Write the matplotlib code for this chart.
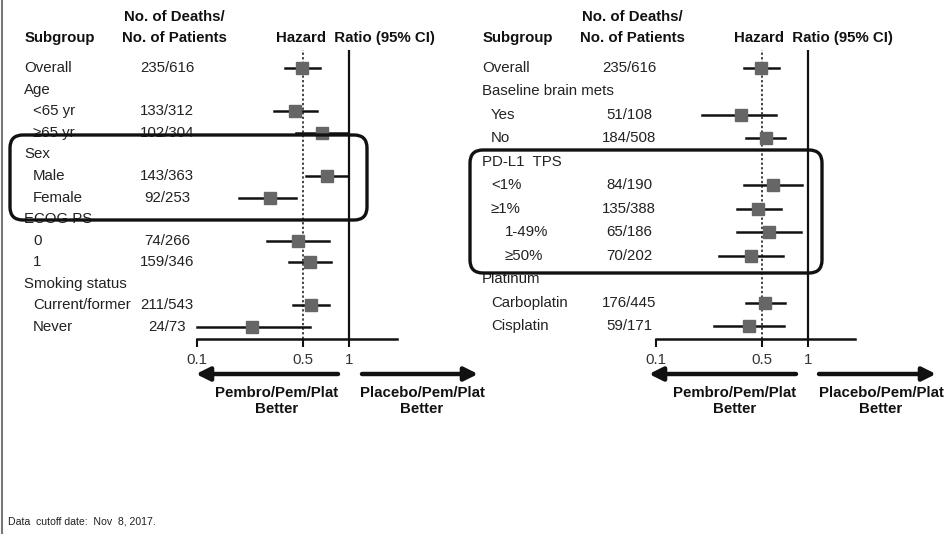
import matplotlib
matplotlib.use("Agg")
import matplotlib.pyplot as plt
from matplotlib.patches import FancyBboxPatch
from matplotlib.transforms import blended_transform_factory

plt.rcParams["font.family"] = ["Liberation Sans", "DejaVu Sans"]

INK = "#111111"
TXT = "#222222"
BOX = "#666666"
FS = 10.8

# left panel: demographic subgroups
left_labels = ["Overall", "Age", "<65 yr", "\u226565 yr", "Sex", "Male", "Female",
               "ECOG PS", "0", "1", "Smoking status", "Current/former", "Never"]
left_level = [0, 0, 1, 1, 0, 1, 1, 0, 1, 1, 0, 1, 1]
left_counts = ["235/616", "", "133/312", "102/304", "", "143/363", "92/253",
               "", "74/266", "159/346", "", "211/543", "24/73"]
left_hr = [0.49, None, 0.44, 0.66, None, 0.72, 0.30, None, 0.46, 0.55, None, 0.56, 0.23]
left_lo = [0.38, None, 0.32, 0.45, None, 0.52, 0.19, None, 0.29, 0.40, None, 0.43, 0.10]
left_hi = [0.64, None, 0.62, 0.98, None, 0.99, 0.45, None, 0.74, 0.76, None, 0.74, 0.55]

# right panel: disease characteristics
right_labels = ["Overall", "Baseline brain mets", "Yes", "No", "PD-L1  TPS", "<1%",
                "\u22651%", "1-49%", "\u226550%", "Platinum", "Carboplatin", "Cisplatin"]
right_level = [0, 0, 1, 1, 0, 1, 1, 2, 2, 0, 1, 1]
right_counts = ["235/616", "", "51/108", "184/508", "", "84/190", "135/388",
                "65/186", "70/202", "", "176/445", "59/171"]
right_hr = [0.49, None, 0.36, 0.53, None, 0.59, 0.47, 0.55, 0.42, None, 0.52, 0.41]
right_lo = [0.38, None, 0.20, 0.39, None, 0.38, 0.34, 0.34, 0.26, None, 0.39, 0.24]
right_hi = [0.64, None, 0.62, 0.71, None, 0.92, 0.66, 0.90, 0.68, None, 0.71, 0.69]

W, H = 947, 534
fig = plt.figure(figsize=(W / 100, H / 100), dpi=100)


def fx(px):
    return px / W


def forest(labels, level, counts, hr, lo, hi, x01, x1, xend, ytop_row, ybot_row,
           label_x, count_x, head_x, head_mid, hr_x):
    n = len(labels)
    step = (ybot_row - ytop_row) / (n - 1)
    axis_y, top_y = 339, 50
    ax = fig.add_axes([fx(x01), (H - axis_y) / H, fx(xend - x01), (axis_y - top_y) / H])
    ax.set_xscale("log")
    decade = x1 - x01
    ax.set_xlim(0.1, 0.1 * 10 ** ((xend - x01) / decade))
    ax.set_ylim((axis_y - ytop_row) / step, (top_y - ytop_row) / step)
    ax.patch.set_alpha(0)
    for s in ("top", "right", "left"):
        ax.spines[s].set_visible(False)
    ax.spines["bottom"].set_linewidth(1.8)
    ax.spines["bottom"].set_color(INK)
    ax.set_yticks([])
    ax.set_xticks([0.1, 0.5, 1])
    ax.set_xticklabels(["0.1", "0.5", "1"])
    ax.minorticks_off()
    ax.tick_params(axis="x", length=6, width=1.5, color=INK, labelsize=FS,
                   labelcolor="#333333", pad=4)

    ax.axvline(1, color=INK, lw=1.6, zorder=1)
    ax.axvline(0.5, color=INK, lw=1.1, ls=(0, (1.5, 1.5)), zorder=1)

    for i in range(n):
        if hr[i] is None:
            continue
        ax.plot([lo[i], hi[i]], [i, i], color=INK, lw=1.8, zorder=2, clip_on=False)
        ax.plot(hr[i], i, marker="s", ms=9, color=BOX, mec=BOX, zorder=3, clip_on=False)

    tr = blended_transform_factory(fig.transFigure, ax.transData)
    indent = [0, 9, 23]
    for i in range(n):
        ax.text(fx(label_x + indent[level[i]]), i, labels[i], transform=tr,
                ha="left", va="center", fontsize=FS, color=TXT)
        if counts[i]:
            ax.text(fx(count_x), i, counts[i], transform=tr,
                    ha="center", va="center", fontsize=FS, color=TXT)

    fig.text(fx(head_x), (H - 38) / H, "Subgroup", ha="left", va="center",
             fontsize=FS, fontweight="bold", color=INK)
    fig.text(fx(head_mid), (H - 17) / H, "No. of Deaths/", ha="center", va="center",
             fontsize=FS, fontweight="bold", color=INK)
    fig.text(fx(head_mid), (H - 38) / H, "No. of Patients", ha="center", va="center",
             fontsize=FS, fontweight="bold", color=INK)
    fig.text(fx(hr_x), (H - 38) / H, "Hazard  Ratio (95% CI)", ha="left", va="center",
             fontsize=FS, fontweight="bold", color=INK)
    return ax


forest(left_labels, left_level, left_counts, left_hr, left_lo, left_hi,
       197, 349, 397, 68, 327, 24, 167, 25, 174, 276)
forest(right_labels, right_level, right_counts, right_hr, right_lo, right_hi,
       656, 808, 855, 68, 326, 482, 629, 483, 632, 734)

# overlay in pixel units for arrows, highlight boxes and footnote
ov = fig.add_axes([0, 0, 1, 1])
ov.set_xlim(0, W)
ov.set_ylim(H, 0)
ov.axis("off")
ov.patch.set_alpha(0)

arrow_kw = dict(arrowstyle="-|>,head_length=0.8,head_width=0.4", lw=3.2, color=INK,
                shrinkA=0, shrinkB=0)
for (x_from, x_to) in [(338, 196), (362, 478), (796, 649), (819, 936)]:
    ov.annotate("", xy=(x_to, 374), xytext=(x_from, 374), arrowprops=arrow_kw)

for cx, txt in [(277, "Pembro/Pem/Plat\nBetter"), (422, "Placebo/Pem/Plat\nBetter"),
                (735, "Pembro/Pem/Plat\nBetter"), (881, "Placebo/Pem/Plat\nBetter")]:
    ov.text(cx, 401, txt, ha="center", va="center", fontsize=FS, fontweight="bold",
            color=INK, linespacing=1.25)

for (x0, y0, x1, y1) in [(10, 135, 367, 220), (470, 150, 822, 273)]:
    ov.add_patch(FancyBboxPatch((x0, y0), x1 - x0, y1 - y0,
                                boxstyle="round,pad=0,rounding_size=13",
                                fill=False, ec=INK, lw=2.4, zorder=5))

ov.plot([1.5, 1.5], [0, H], color="#777777", lw=1.5)
ov.text(8, 522, "Data  cutoff date:  Nov  8, 2017.", ha="left", va="center",
        fontsize=7.6, color=TXT)

fig.savefig("out.png", dpi=100, facecolor="white")
